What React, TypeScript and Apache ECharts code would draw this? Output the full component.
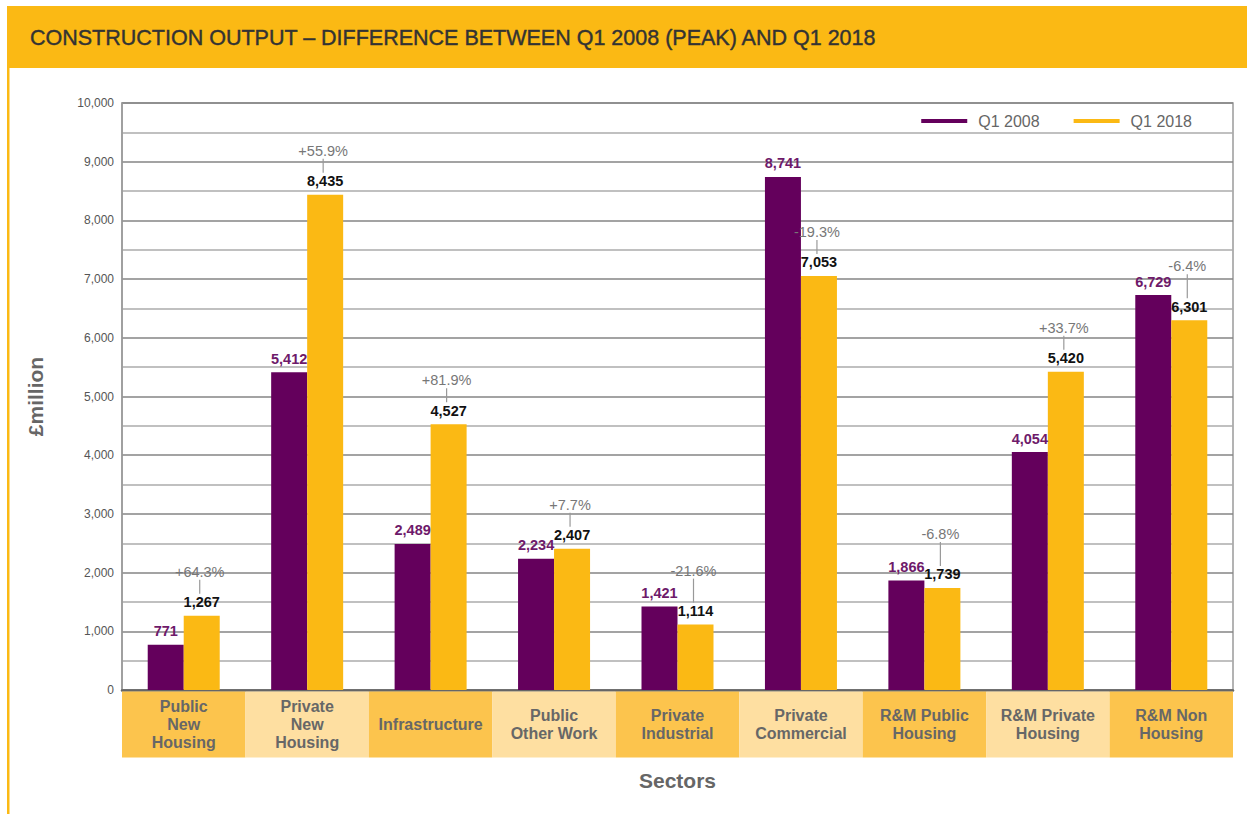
import React, { useEffect, useRef } from "react";
import * as echarts from "echarts";

const categories = [
  "Public\nNew\nHousing",
  "Private\nNew\nHousing",
  "Infrastructure",
  "Public\nOther Work",
  "Private\nIndustrial",
  "Private\nCommercial",
  "R&M Public\nHousing",
  "R&M Private\nHousing",
  "R&M Non\nHousing",
];
const q12008 = [771, 5412, 2489, 2234, 1421, 8741, 1866, 4054, 6729];
const q12018 = [1267, 8435, 4527, 2407, 1114, 7053, 1739, 5420, 6301];
const seriesNames = ["Q1 2008", "Q1 2018"];

const PURPLE = "#64005c";
const YELLOW = "#fbb914";
const FONT = "Liberation Sans, Arial, sans-serif";

const fmt = (v: number) => v.toLocaleString("en-US");
const pct = (a: number, b: number) => {
  const d = ((b - a) / a) * 100;
  return (d >= 0 ? "+" : "") + d.toFixed(1) + "%";
};

export default function App() {
  const ref = useRef<HTMLDivElement>(null);
  useEffect(() => {
    if (!ref.current) return;
    const chart = echarts.init(ref.current, undefined, { renderer: "svg" });
    const boxData = categories.map((_, i) => [i, 0]);
    const annData = categories.map((_, i) => [i, q12008[i], q12018[i]]);
    chart.setOption({
      animation: false,
      textStyle: { fontFamily: FONT },
      grid: {
        left: 122,
        right: 14,
        top: 103,
        bottom: 124,
        show: true,
        borderColor: "#9a9a9a",
        borderWidth: 1.5,
      },
      legend: {
        data: seriesNames,
        top: 108,
        right: 50,
        icon: "rect",
        itemWidth: 46,
        itemHeight: 4,
        itemGap: 34,
        textStyle: { color: "#666", fontSize: 16, fontFamily: FONT, padding: [0, 0, 0, 6] },
      },
      xAxis: {
        type: "category",
        data: categories,
        axisLine: { show: true, lineStyle: { color: "#666", width: 2.5 } },
        axisTick: { show: false },
        axisLabel: { show: false },
        splitLine: { show: false },
        name: "Sectors",
        nameLocation: "middle",
        nameGap: 80,
        nameTextStyle: { color: "#666", fontSize: 21, fontWeight: "bold", fontFamily: FONT },
      },
      yAxis: {
        type: "value",
        min: 0,
        max: 10000,
        interval: 500,
        axisLine: { show: true, lineStyle: { color: "#9a9a9a", width: 1.5 } },
        axisTick: { show: false },
        axisLabel: {
          color: "#555",
          fontSize: 12,
          margin: 8,
          formatter: (v: number) => (v % 1000 === 0 ? fmt(v) : ""),
        },
        splitLine: { show: true, lineStyle: { color: ["#858585", "#ababab"], width: 1.5 } },
        name: "£million",
        nameLocation: "middle",
        nameGap: 76,
        nameRotate: 90,
        nameTextStyle: { color: "#666", fontSize: 21, fontWeight: "bold", fontFamily: FONT },
      },
      graphic: [
        { type: "rect", shape: { x: 7, y: 6, width: 1240, height: 62 }, style: { fill: "#fbb914" } },
        { type: "rect", shape: { x: 7, y: 68, width: 2.5, height: 746 }, style: { fill: "#fbb914" } },
        {
          type: "text",
          style: {
            text: "CONSTRUCTION OUTPUT – DIFFERENCE BETWEEN Q1 2008 (PEAK) AND Q1 2018",
            x: 30,
            y: 38,
            verticalAlign: "middle",
            fill: "#333",
            font: `21.5px ${FONT}`,
            stroke: "#333",
            lineWidth: 0.4,
          },
        },
      ],
      series: [
        {
          name: seriesNames[0],
          type: "bar",
          data: q12008,
          barWidth: 36,
          barGap: "0%",
          itemStyle: { color: PURPLE },
          label: {
            show: true,
            position: "top",
            distance: 6,
            color: "#6e1a6a",
            fontSize: 14.5,
            fontWeight: "bold",
            formatter: (p: any) => fmt(p.value),
          },
        },
        {
          name: seriesNames[1],
          type: "bar",
          data: q12018,
          barWidth: 36,
          itemStyle: { color: YELLOW },
          label: {
            show: true,
            position: "top",
            distance: 6,
            color: "#111",
            fontSize: 14.5,
            fontWeight: "bold",
            formatter: (p: any) => fmt(p.value),
          },
        },
        {
          type: "custom",
          clip: false,
          silent: true,
          z: 5,
          data: boxData,
          encode: { x: 0, y: 1 },
          renderItem: (params: any, api: any) => {
            const i = api.value(0);
            const c = api.coord([i, 0]);
            const bw = api.size([1, 0])[0];
            return {
              type: "group",
              children: [
                {
                  type: "rect",
                  shape: { x: c[0] - bw / 2, y: c[1] + 1.5, width: bw, height: 66 },
                  style: { fill: i % 2 === 0 ? "#fcc44d" : "#fedfa1" },
                },
                {
                  type: "text",
                  style: {
                    text: categories[i],
                    x: c[0],
                    y: c[1] + 34,
                    align: "center",
                    verticalAlign: "middle",
                    fill: "#676767",
                    font: `bold 16px ${FONT}`,
                    lineHeight: 18,
                  },
                },
              ],
            };
          },
        },
        {
          type: "custom",
          clip: false,
          silent: true,
          z: 5,
          data: annData,
          encode: { x: 0, y: 2 },
          renderItem: (params: any, api: any) => {
            const i = api.value(0);
            const p = api.value(1);
            const y = api.value(2);
            const yTop = api.coord([i, y]);
            const pTop = api.coord([i, p]);
            const x = yTop[0] + 16;
            let extra = 0;
            if (p > y && yTop[1] - pTop[1] < 30) extra = 10;
            const py = yTop[1] - 44 - extra;
            const labelTop = yTop[1] - 22;
            return {
              type: "group",
              children: [
                {
                  type: "line",
                  shape: { x1: x, y1: py + 8, x2: x, y2: labelTop },
                  style: { stroke: "#999", lineWidth: 1.2 },
                },
                {
                  type: "text",
                  style: {
                    text: pct(p, y),
                    x: x,
                    y: py,
                    align: "center",
                    verticalAlign: "middle",
                    fill: "#777",
                    font: `14.5px ${FONT}`,
                  },
                },
              ],
            };
          },
        },
      ],
    });
    return () => chart.dispose();
  }, []);
  return (
    <div
      ref={ref}
      style={{ position: "fixed", left: 0, top: 0, width: 1247, height: 814, background: "#fff" }}
    />
  );
}
